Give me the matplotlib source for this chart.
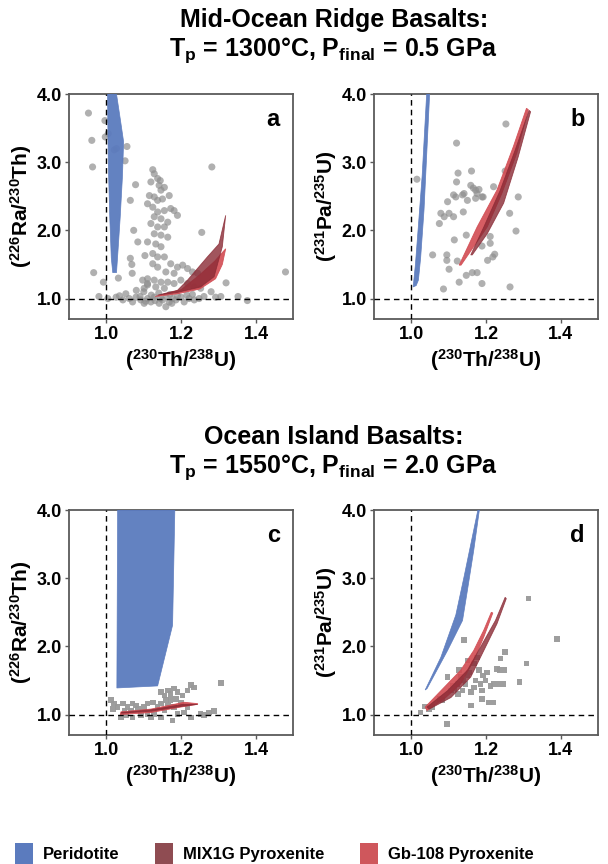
import matplotlib
matplotlib.use("Agg")
import matplotlib.pyplot as plt
from matplotlib.patches import Patch
import numpy as np

plt.rcParams['font.family'] = ['Liberation Sans', 'DejaVu Sans']
plt.rcParams['font.weight'] = 'bold'
plt.rcParams['mathtext.fontset'] = 'custom'
plt.rcParams['mathtext.rm'] = 'Liberation Sans:bold'
plt.rcParams['mathtext.it'] = 'Liberation Sans:bold'
plt.rcParams['mathtext.bf'] = 'Liberation Sans:bold'
plt.rcParams['mathtext.default'] = 'regular'

# ---------------- DATA ----------------
# Panel a: MORB (230Th/238U) vs (226Ra/230Th)
a_th = [0.952, 0.961, 0.963, 0.996, 0.997, 1.005, 1.021, 1.027, 1.055, 1.050,
        0.966, 0.992, 1.032, 0.980,
        1.282, 1.255, 1.479, 1.377, 1.352, 1.320, 1.280,
        1.078, 1.064, 1.073, 1.084, 1.103, 1.064, 1.068, 1.069,
        1.124, 1.128, 1.137, 1.144, 1.119, 1.141, 1.146, 1.155, 1.115, 1.128,
        1.137, 1.150, 1.110, 1.124, 1.137, 1.155, 1.172, 1.181, 1.128, 1.146,
        1.164, 1.119, 1.137, 1.155, 1.128, 1.146, 1.164, 1.110, 1.132, 1.146,
        1.124, 1.137, 1.155, 1.172, 1.190, 1.204, 1.217, 1.230, 1.244, 1.124,
        1.137, 1.159, 1.181, 1.110, 1.128, 1.146, 1.164, 1.110, 1.132, 1.155,
        1.181, 1.199, 1.217, 1.235, 1.252, 1.097, 1.110, 1.101, 1.168, 1.190,
        1.004, 1.026, 1.044, 1.052, 1.061, 1.070, 1.079, 1.092, 1.101, 1.110,
        1.119, 1.128, 1.141, 1.150, 1.159, 1.168, 1.177, 1.186, 1.199, 1.208,
        1.221, 1.235, 1.248, 1.261, 1.292, 1.306,
        1.035, 1.090, 1.130, 1.160, 1.105, 1.145, 1.175, 1.190, 1.215, 1.230,
        1.170, 1.120, 1.140, 1.100, 1.080]
a_ra = [3.72, 3.32, 2.93, 3.61, 3.37, 3.42, 3.18, 3.20, 3.23, 3.02,
        1.38, 1.24, 1.30, 1.03,
        2.93, 1.97, 1.39, 0.97, 1.03, 1.23, 1.10,
        2.67, 2.44, 2.00, 1.83, 1.63, 1.59, 1.50, 1.37,
        2.89, 2.83, 2.76, 2.73, 2.71, 2.66, 2.59, 2.63, 2.51, 2.49,
        2.44, 2.46, 2.39, 2.34, 2.27, 2.29, 2.32, 2.29, 2.20, 2.17,
        2.12, 2.10, 2.05, 2.05, 1.95, 1.93, 1.90, 1.83, 1.80, 1.76,
        1.66, 1.61, 1.61, 1.51, 1.46, 1.49, 1.44, 1.39, 1.37, 1.51,
        1.46, 1.39, 1.37, 1.29, 1.27, 1.24, 1.24, 1.20, 1.17, 1.15,
        1.22, 1.27, 1.22, 1.17, 1.15, 1.27, 1.22, 1.15, 2.51, 2.22,
        1.00, 1.02, 0.98, 1.07, 1.00, 0.95, 1.02, 0.98, 0.93, 1.00,
        0.95, 1.02, 0.93, 0.98, 0.88, 0.95, 1.00, 0.98, 1.02, 0.95,
        1.00, 0.98, 1.00, 1.03, 1.02, 1.03,
        1.04, 1.03, 0.97, 1.03, 0.96, 1.00, 0.93, 1.04, 1.05, 1.06,
        1.06, 1.05, 1.08, 1.10, 1.12]

# Panel b: MORB (230Th/238U) vs (231Pa/235U)
b_th = [1.015, 1.121, 1.125, 1.121, 1.161, 1.097, 1.113, 1.119, 1.137, 1.141,
        1.150, 1.159, 1.166, 1.172, 1.176, 1.181, 1.189, 1.192, 1.172, 1.079,
        1.088, 1.075, 1.101, 1.113, 1.139, 1.147, 1.115, 1.057, 1.095, 1.095,
        1.101, 1.123, 1.147, 1.163, 1.176, 1.128, 1.086, 1.189, 1.189, 1.211,
        1.211, 1.204, 1.218, 1.223, 1.220, 1.251, 1.253, 1.263, 1.286, 1.280,
        1.264]
b_pa = [2.75, 3.28, 2.84, 2.71, 2.87, 2.42, 2.52, 2.49, 2.52, 2.54,
        2.44, 2.66, 2.62, 2.59, 2.54, 2.60, 2.49, 2.49, 2.47, 2.25,
        2.20, 2.10, 2.25, 2.20, 2.27, 1.93, 1.86, 1.64, 1.64, 1.56,
        1.43, 1.55, 1.34, 1.38, 1.38, 1.24, 1.14, 1.22, 1.77, 1.91,
        1.81, 1.56, 1.61, 1.65, 2.64, 2.87, 3.56, 2.25, 2.49, 1.99,
        1.17]

# Panel c: OIB (230Th/238U) vs (226Ra/230Th)
c_th = [1.012, 1.021, 1.017, 1.030, 1.044, 1.057, 1.070, 1.079, 1.084, 1.066,
        1.048, 1.101, 1.110, 1.092, 1.119, 1.128, 1.146, 1.155, 1.164, 1.172,
        1.181, 1.190, 1.186, 1.172, 1.159, 1.146, 1.164, 1.137, 1.124, 1.199,
        1.204, 1.226, 1.235, 1.217, 1.155, 1.146, 1.177, 1.190, 1.208, 1.226,
        1.252, 1.261, 1.275, 1.288, 1.306, 1.070, 1.039, 1.052, 1.110, 1.181,
        1.217]
c_ra = [1.21, 1.16, 1.08, 1.11, 1.16, 1.11, 1.16, 1.13, 1.08, 1.06,
        1.06, 1.11, 1.16, 0.99, 0.96, 1.01, 1.33, 1.28, 1.35, 1.30,
        1.38, 1.33, 1.23, 1.21, 1.21, 1.16, 1.13, 1.11, 1.18, 1.18,
        1.28, 1.43, 1.40, 1.35, 1.06, 0.96, 0.91, 1.01, 1.03, 0.96,
        1.01, 0.99, 1.03, 1.05, 1.46, 0.96, 0.96, 0.99, 1.01, 1.11,
        1.11]

# Panel d: OIB (230Th/238U) vs (231Pa/235U)
d_th = [1.025, 1.037, 1.048, 1.057, 1.075, 1.084, 1.095, 1.097, 1.106, 1.115,
        1.123, 1.128, 1.132, 1.137, 1.141, 1.145, 1.150, 1.150, 1.159, 1.160,
        1.167, 1.172, 1.176, 1.181, 1.185, 1.189, 1.192, 1.189, 1.203, 1.207,
        1.220, 1.220, 1.229, 1.233, 1.238, 1.247, 1.249, 1.251, 1.236, 1.289,
        1.308, 1.313, 1.389, 1.155, 1.140, 1.125, 1.110, 1.198, 1.212, 1.168]
d_pa = [1.03, 1.12, 1.08, 1.11, 1.23, 1.21, 0.86, 1.55, 1.35, 1.38,
        1.45, 1.65, 1.55, 1.35, 2.09, 1.45, 1.79, 1.57, 1.33, 1.13,
        1.75, 1.50, 1.84, 1.65, 1.45, 1.35, 1.57, 1.23, 1.62, 1.18,
        1.18, 1.45, 1.67, 1.45, 1.82, 1.45, 1.65, 1.92, 1.65, 1.48,
        1.75, 2.70, 2.11, 1.62, 1.50, 1.30, 1.42, 1.50, 1.42, 1.40]

# Model melting regions (outlines)
a_per_x = [1.003, 1.027, 1.038, 1.046, 1.043, 1.037, 1.031, 1.027, 1.017, 1.013, 1.009, 1.005, 1.003]
a_per_y = [4.00, 4.00, 3.60, 3.30, 2.80, 2.20, 1.70, 1.38, 1.38, 1.60, 2.20, 3.00, 4.00]
a_mix_x = [1.137, 1.190, 1.217, 1.270, 1.301, 1.319, 1.310, 1.288, 1.252, 1.190, 1.137]
a_mix_y = [1.05, 1.12, 1.27, 1.61, 1.80, 2.22, 1.76, 1.32, 1.17, 1.09, 1.05]
a_gb_x = [1.130, 1.200, 1.250, 1.290, 1.319, 1.310, 1.292, 1.250, 1.190, 1.130]
a_gb_y = [1.03, 1.13, 1.35, 1.55, 1.73, 1.50, 1.29, 1.14, 1.07, 1.03]

b_per_x = [1.005, 1.013, 1.019, 1.025, 1.034, 1.049, 1.041, 1.029, 1.018, 1.011, 1.005]
b_per_y = [1.17, 1.19, 1.27, 1.60, 2.30, 4.00, 4.00, 2.80, 2.00, 1.50, 1.17]
b_mix_x = [1.159, 1.194, 1.238, 1.278, 1.315, 1.319, 1.286, 1.247, 1.203, 1.163]
b_mix_y = [1.64, 2.05, 2.59, 3.18, 3.76, 3.74, 3.08, 2.40, 1.95, 1.64]
b_gb_x = [1.128, 1.176, 1.229, 1.273, 1.308, 1.313, 1.282, 1.242, 1.203, 1.133]
b_gb_y = [1.49, 2.05, 2.59, 3.23, 3.79, 3.77, 3.13, 2.54, 2.05, 1.49]

c_per_x = [1.030, 1.183, 1.177, 1.137, 1.028, 1.030]
c_per_y = [4.00, 4.00, 2.31, 1.42, 1.39, 4.00]
c_mix_x = [1.040, 1.120, 1.200, 1.244, 1.205, 1.120, 1.040]
c_mix_y = [1.02, 1.05, 1.12, 1.15, 1.15, 1.07, 1.03]
c_gb_x = [1.037, 1.119, 1.199, 1.244, 1.244, 1.208, 1.199, 1.119, 1.039]
c_gb_y = [1.00, 1.03, 1.11, 1.15, 1.16, 1.18, 1.17, 1.08, 1.04]

d_per_x = [1.037, 1.079, 1.119, 1.141, 1.178, 1.182, 1.167, 1.150, 1.137, 1.097, 1.042]
d_per_y = [1.36, 1.84, 2.46, 3.02, 4.00, 4.00, 3.41, 2.82, 2.38, 1.94, 1.38]
d_mix_x = [1.042, 1.097, 1.150, 1.185, 1.225, 1.251, 1.254, 1.229, 1.194, 1.159, 1.106, 1.048]
d_mix_y = [1.11, 1.35, 1.65, 1.99, 2.38, 2.72, 2.70, 2.33, 1.94, 1.55, 1.25, 1.08]
d_gb_x = [1.037, 1.088, 1.132, 1.167, 1.194, 1.214, 1.218, 1.194, 1.167, 1.132, 1.088, 1.042]
d_gb_y = [1.11, 1.40, 1.65, 1.94, 2.24, 2.50, 2.49, 2.14, 1.79, 1.45, 1.23, 1.06]

x_ticks = [1.0, 1.2, 1.4]
y_ticks = [1.0, 2.0, 3.0, 4.0]
legend_labels = ['Peridotite', 'MIX1G Pyroxenite', 'Gb-108 Pyroxenite']

# ---------------- STYLE ----------------
C_PER = '#5b7bbe'
C_MIX = '#8a2a35'
C_GB = '#d24b52'
C_PT = '#8f8f8f'
SPINE = '#5a5a5a'

fig = plt.figure(figsize=(6.08, 8.64), dpi=100)

W = 0.369
H = 0.2604
pos = {
    'a': [0.1135, 0.6308, W, H],
    'b': [0.615, 0.6308, W, H],
    'c': [0.1135, 0.1493, W, H],
    'd': [0.615, 0.1493, W, H],
}

ra_label = r'($^{226}$Ra/$^{230}$Th)'
pa_label = r'($^{231}$Pa/$^{235}$U)'
th_label = r'($^{230}$Th/$^{238}$U)'

panels = [
    ('a', a_th, a_ra, 'o', ra_label, (a_per_x, a_per_y), (a_mix_x, a_mix_y), (a_gb_x, a_gb_y)),
    ('b', b_th, b_pa, 'o', pa_label, (b_per_x, b_per_y), (b_mix_x, b_mix_y), (b_gb_x, b_gb_y)),
    ('c', c_th, c_ra, 's', ra_label, (c_per_x, c_per_y), (c_mix_x, c_mix_y), (c_gb_x, c_gb_y)),
    ('d', d_th, d_pa, 's', pa_label, (d_per_x, d_per_y), (d_mix_x, d_mix_y), (d_gb_x, d_gb_y)),
]

for key, xs, ys, mk, ylab, per, mix, gb in panels:
    ax = fig.add_axes(pos[key])
    ax.set_xlim(0.9, 1.5)
    ax.set_ylim(0.7, 4.0)
    if mk == 'o':
        ax.scatter(xs, ys, s=26, c=C_PT, alpha=0.7, edgecolors='none', zorder=2)
    else:
        ax.scatter(xs, ys, s=16, c='#999999', marker='s', alpha=0.95, edgecolors='none', zorder=2)
    ax.fill(per[0], per[1], color=C_PER, alpha=0.95, lw=0.5, ec=C_PER, zorder=3)
    ax.fill(gb[0], gb[1], color=C_GB, alpha=0.9, lw=0.6, ec=C_GB, zorder=3)
    ax.fill(mix[0], mix[1], color=C_MIX, alpha=0.8, lw=0.6, ec=C_MIX, zorder=4)
    ax.axvline(1.0, color='black', ls=(0, (4, 3)), lw=1.0, zorder=5)
    ax.axhline(1.0, color='black', ls=(0, (4, 3)), lw=1.0, zorder=5)
    ax.set_xticks(x_ticks)
    ax.set_yticks(y_ticks)
    ax.set_xticklabels([f'{v:.1f}' for v in x_ticks], fontsize=13, fontweight='bold')
    ax.set_yticklabels([f'{v:.1f}' for v in y_ticks], fontsize=13, fontweight='bold')
    ax.tick_params(direction='out', length=3, width=1, color=SPINE, pad=2)
    for sp in ax.spines.values():
        sp.set_color(SPINE)
        sp.set_linewidth(1.3)
    ax.set_xlabel(th_label, fontsize=15, fontweight='bold', labelpad=3)
    ax.set_ylabel(ylab, fontsize=15, fontweight='bold', labelpad=2)
    ax.text(0.94, 0.94, key, transform=ax.transAxes, ha='right', va='top',
            fontsize=17, fontweight='bold', zorder=6)

fig.text(0.549, 0.977, 'Mid-Ocean Ridge Basalts:', ha='center', va='center',
         fontsize=18, fontweight='bold')
fig.text(0.549, 0.942, r'T$_{p}$ = 1300°C, P$_{final}$ = 0.5 GPa', ha='center', va='center',
         fontsize=18, fontweight='bold')
fig.text(0.549, 0.494, 'Ocean Island Basalts:', ha='center', va='center',
         fontsize=18, fontweight='bold')
fig.text(0.549, 0.459, r'T$_{p}$ = 1550°C, P$_{final}$ = 2.0 GPa', ha='center', va='center',
         fontsize=18, fontweight='bold')

handles = [Patch(facecolor=C_PER, edgecolor='none'),
           Patch(facecolor='#8f4c52', edgecolor='none'),
           Patch(facecolor='#cf575c', edgecolor='none')]
fig.legend(handles, legend_labels, loc='lower left', bbox_to_anchor=(0.0137, -0.0084), ncol=3,
           frameon=False, handlelength=1.1, handleheight=1.6, borderaxespad=0,
           handletextpad=0.6, columnspacing=2.1, prop={'weight': 'bold', 'size': 12})

fig.savefig('out.png', dpi=100)
